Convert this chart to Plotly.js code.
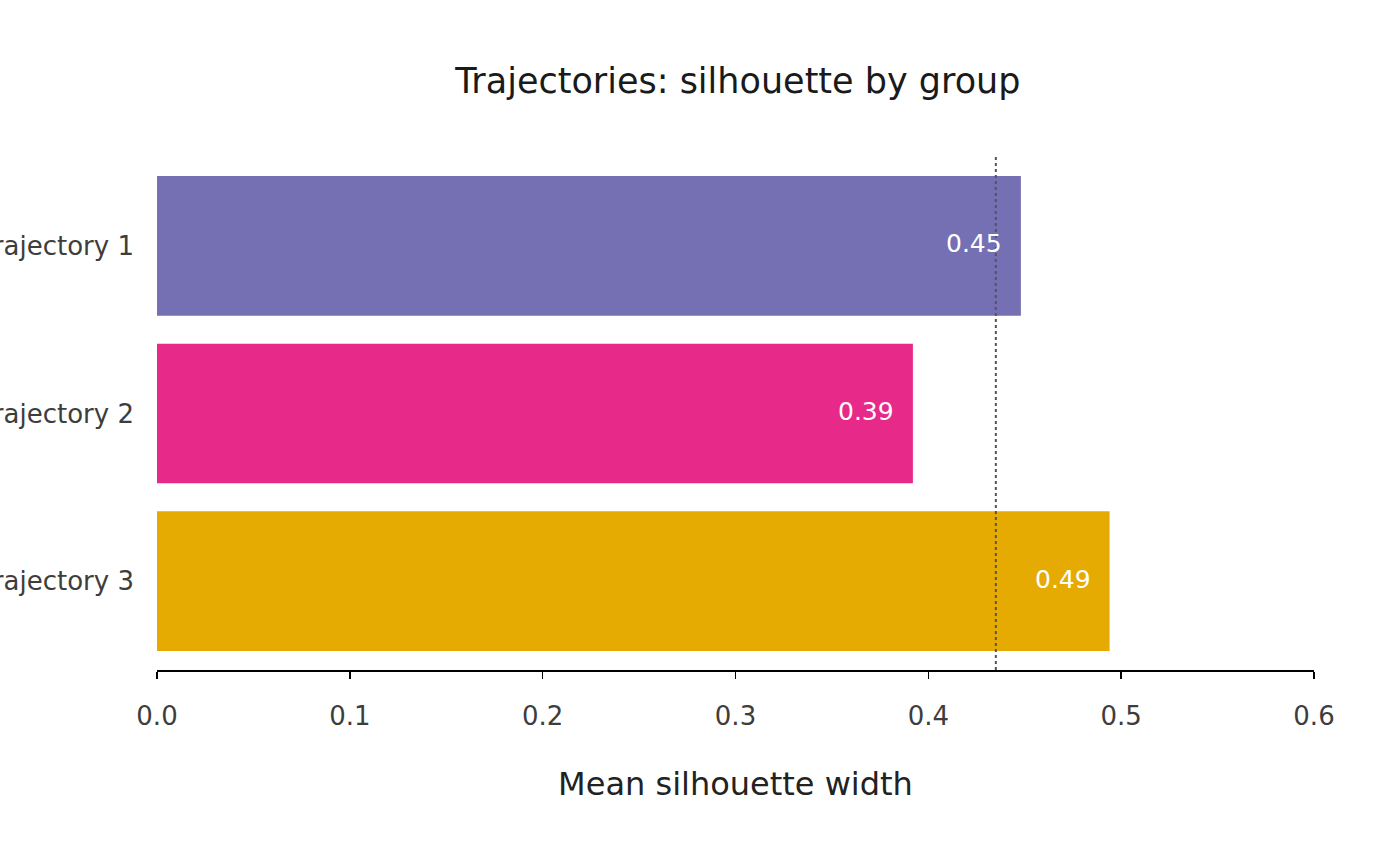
<!DOCTYPE html>
<html>
<head>
<meta charset="utf-8">
<script src="https://cdn.plot.ly/plotly-3.0.1.min.js"></script>
<style>
  html, body { margin: 0; padding: 0; background: #fff; }
  #silDiv { width: 1400px; height: 866px; }
</style>
</head>
<body>
<div id="silDiv"></div>
<script>
// silhouette values
var groups = ['Trajectory 1', 'Trajectory 2', 'Trajectory 3'];
var meanSil = [0.448, 0.392, 0.494];
var barLabels = ['0.45', '0.39', '0.49'];
var barColors = ['#7570b3', '#e7298a', '#e6ab02'];
var overallMean = 0.435;
var xTicks = [0, 0.1, 0.2, 0.3, 0.4, 0.5, 0.6];
var xTickText = ['0.0', '0.1', '0.2', '0.3', '0.4', '0.5', '0.6'];

var trace1 = {
    x: meanSil,
    y: groups,
    type: 'bar',
    orientation: 'h',
    width: 0.833,
    marker: {color: barColors, line: {width: 0}},
    hoverinfo: 'x+y'
};

// value labels sit just inside the right end of each bar
var labels = [];
for (var i = 0; i < groups.length; i++) {
    labels.push({
        x: meanSil[i],
        y: groups[i],
        xref: 'x',
        yref: 'y',
        text: barLabels[i],
        showarrow: false,
        xanchor: 'right',
        xshift: -17,
        yshift: 2,
        font: {family: 'DejaVu Sans', size: 25, color: '#ffffff'}
    });
}

var layout = {
    width: 1400,
    height: 866,
    paper_bgcolor: '#ffffff',
    plot_bgcolor: '#ffffff',
    font: {family: 'DejaVu Sans', color: '#3d3d3d'},
    margin: {l: 157, r: 86, t: 157, b: 196},
    showlegend: false,
    title: {
        text: 'Trajectories: silhouette by group',
        x: 0.527,
        xanchor: 'center',
        y: 0.907,
        yanchor: 'middle',
        font: {family: 'DejaVu Sans', size: 35, color: '#1a1a1a'}
    },
    xaxis: {
        range: [0, 0.6],
        tickvals: xTicks,
        ticktext: xTickText,
        showgrid: false,
        zeroline: false,
        showline: true,
        linecolor: '#000000',
        linewidth: 1.6,
        ticks: 'outside',
        ticklen: 7,
        tickwidth: 1.6,
        tickcolor: '#000000',
        ticklabelstandoff: 15,
        tickfont: {family: 'DejaVu Sans', size: 26, color: '#3d3d3d'},
        title: {
            text: 'Mean silhouette width',
            standoff: 43,
            font: {family: 'DejaVu Sans', size: 32, color: '#222222'}
        }
    },
    yaxis: {
        type: 'category',
        categoryorder: 'array',
        categoryarray: groups,
        range: [2.53, -0.53],
        showgrid: false,
        zeroline: false,
        showline: false,
        ticks: '',
        ticklabelstandoff: 22,
        tickfont: {family: 'DejaVu Sans', size: 26, color: '#3d3d3d'}
    },
    shapes: [{
        type: 'line',
        xref: 'x',
        yref: 'paper',
        x0: overallMean,
        x1: overallMean,
        y0: 0,
        y1: 1,
        line: {color: '#555555', width: 2, dash: 'dot'}
    }],
    annotations: labels
};

Plotly.newPlot('silDiv', [trace1], layout, {displayModeBar: false, staticPlot: true});
</script>
</body>
</html>
